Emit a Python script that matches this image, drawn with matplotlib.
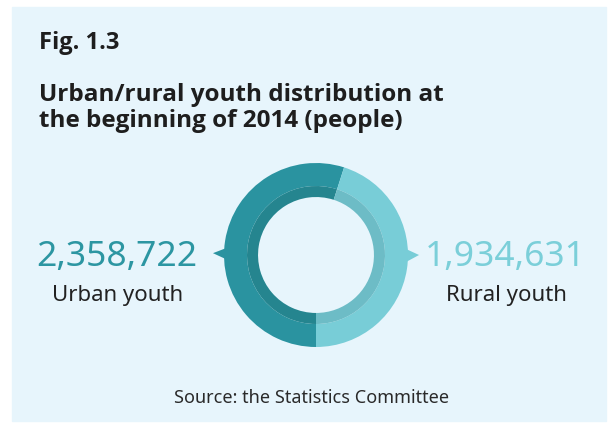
import matplotlib.pyplot as plt
from matplotlib.patches import Rectangle, Polygon

# Data
labels = ['Urban youth', 'Rural youth']
values = [2358722, 1934631]
ring_colors = ['#2A93A0', '#78CDD7']
band_colors = ['#25858F', '#6DBCC6']

fig_title = 'Fig. 1.3'
title = 'Urban/rural youth distribution at\nthe beginning of 2014 (people)'
source = 'Source: the Statistics Committee'

W, H = 611, 423
fig = plt.figure(figsize=(W / 100, H / 100), dpi=100)
fig.patch.set_facecolor('white')

# background axes in pixel coordinates
bg = fig.add_axes([0, 0, 1, 1])
bg.set_xlim(0, W)
bg.set_ylim(H, 0)
bg.axis('off')
bg.add_patch(Rectangle((12, 7), 594, 414, color='#E7F5FC', zorder=0))

font = 'Noto Sans'
head_font = 'Open Sans'
bg.text(39, 43, fig_title, fontsize=17, fontweight='bold', family=head_font,
        color='#1E1E1E', va='center', ha='left')
bg.text(39, 108, title, fontsize=17.5, fontweight='bold', family=head_font,
        color='#1E1E1E', va='center', ha='left', linespacing=1.15)

# numbers and labels
bg.text(117, 257, f'{values[0]:,}', fontsize=25.5, family=font,
        color='#2C96A2', va='center', ha='center')
bg.text(118, 296, labels[0], fontsize=16, family=font,
        color='#222222', va='center', ha='center')
bg.text(505, 257, f'{values[1]:,}', fontsize=25.5, family=font,
        color='#7BCFD9', va='center', ha='center')
bg.text(506, 296, labels[1], fontsize=16, family=font,
        color='#222222', va='center', ha='center')

bg.text(312, 398, source, fontsize=13, family=font,
        color='#2A2A2A', va='center', ha='center')

# donut
cx, cy, r = 316, 255, 92
pad = 1.15
ax = fig.add_axes([(cx - pad * r) / W, (H - cy - pad * r) / H,
                   2 * pad * r / W, 2 * pad * r / H])
ax.pie(values, colors=ring_colors, radius=1.0, startangle=270, counterclock=False,
       wedgeprops=dict(width=0.25, linewidth=0))
ax.pie(values, colors=band_colors, radius=0.75, startangle=270, counterclock=False,
       wedgeprops=dict(width=0.12, linewidth=0))

# arrow notches pointing to the labels
ax.add_patch(Polygon([(-0.86, 0.12), (-1.12, 0.02), (-0.86, -0.10)],
                     color=ring_colors[0], lw=0))
ax.add_patch(Polygon([(0.86, 0.12), (1.12, 0.0), (0.86, -0.14)],
                     color=ring_colors[1], lw=0))
ax.set_xlim(-pad, pad)
ax.set_ylim(-pad, pad)
ax.set_aspect('equal')
ax.axis('off')

fig.savefig('out.png', dpi=100, facecolor='white')
